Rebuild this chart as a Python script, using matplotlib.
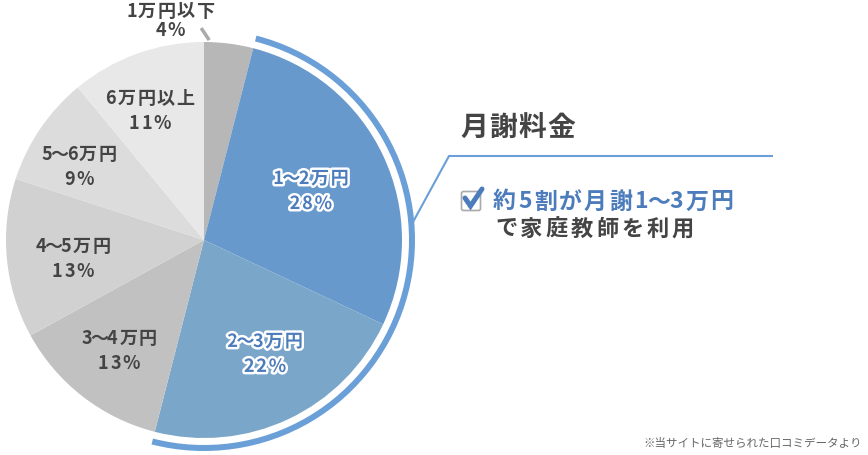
import numpy as np
import matplotlib
matplotlib.use('Agg')
import matplotlib.pyplot as plt
from matplotlib.patches import Wedge, FancyBboxPatch
import matplotlib.patheffects as pe

plt.rcParams['font.family'] = ['Noto Sans CJK JP', 'DejaVu Sans']

# data
labels = ['1万円以下', '1〜2万円', '2〜3万円', '3〜4万円', '4〜5万円', '5〜6万円', '6万円以上']
shares = [4, 28, 22, 13, 13, 9, 11]
colors = ['#b7b7b7', '#6899cc', '#7aa6c9', '#c1c1c1', '#d1d1d1', '#dcdcdc', '#e8e8e8']
highlight = [1, 2]  # slices under the blue arc

title = '月謝料金'
point_line1 = '約5割が月謝1〜3万円'
point_line2 = 'で家庭教師を利用'
note = '※当サイトに寄せられた口コミデータより'

W, H = 868, 456
def py(y):
    return H - y

fig = plt.figure(figsize=(W / 100, H / 100), dpi=100)
ax = fig.add_axes([0, 0, 1, 1])

cx, cy, R = 204, py(241), 198
wedges, _ = ax.pie(shares, colors=colors, startangle=90, counterclock=False,
                   radius=R, center=(cx, cy), wedgeprops=dict(linewidth=0))
ax.set_xlim(0, W)
ax.set_ylim(0, H)
ax.set_aspect('equal')
ax.axis('off')

# blue arc around highlighted slices
t1 = min(wedges[i].theta1 for i in highlight)
t2 = max(wedges[i].theta2 for i in highlight)
ax.add_patch(Wedge((cx, cy), 211, t1, t2, width=6, color='#6a9fd8', lw=0))

renderer = fig.canvas.get_renderer()

def spaced_text(x, y, s, gap, ha='left', tilde_gap=None, **kw):
    # place characters one by one to get letter spacing
    items = [ax.text(0, y, ch, ha='left', va='center', **kw) for ch in s]
    widths = [t.get_window_extent(renderer).width for t in items]
    gaps = []
    for a, b in zip(s[:-1], s[1:]):
        if tilde_gap is not None and '〜' in (a, b):
            gaps.append(tilde_gap)
        else:
            gaps.append(gap)
    total = sum(widths) + sum(gaps)
    if ha == 'center':
        x -= total / 2
    for t, w, g in zip(items, widths, gaps + [0]):
        t.set_x(x)
        x += w + g

dark = '#444444'
blue_txt = '#4c7cbc'
frac = [None, 0.594, 0.653, 0.70, 0.668, 0.734, 0.711]
nudge = [0, -0.6, 3.0, 0.0, 2.4, 3.6, 2.8]
lab_kw = dict(fontsize=13, fontweight='bold')
for i, w in enumerate(wedges):
    if i == 0:
        # outside label with leader
        a = np.deg2rad(w.theta2 - 1.5)
        x0, y0 = cx + R * np.cos(a), cy + R * np.sin(a)
        ax.plot([x0, x0 - 8], [y0 + 2, y0 + 14], color='#aaaaaa', lw=2.5,
                solid_capstyle='butt')
        spaced_text(170, py(11), labels[i], 1.2, ha='center', color=dark, **lab_kw)
        spaced_text(170, py(30), f'{shares[i]}%', 1.5, ha='center', color=dark,
                    **lab_kw)
        continue
    mid = np.deg2rad((w.theta1 + w.theta2) / 2 + nudge[i])
    tx = cx + frac[i] * R * np.cos(mid)
    ty = cy + frac[i] * R * np.sin(mid)
    if i in highlight:
        kw = dict(color=blue_txt,
                  path_effects=[pe.withStroke(linewidth=3.5, foreground='white')])
    else:
        kw = dict(color=dark)
    spaced_text(tx, ty + 12.5, labels[i], 1.6, ha='center', tilde_gap=-1.5,
                **lab_kw, **kw)
    spaced_text(tx, ty - 12.5, f'{shares[i]}%', 1.8, ha='center', **lab_kw, **kw)

# right panel
spaced_text(460, py(128), title, 1.5, fontsize=20, fontweight='bold', color=dark)
ax.plot([413, 449, 772], [py(223), py(157), py(157)], color='#6a9fd8', lw=1.5)

ax.add_patch(FancyBboxPatch((461.5, py(211.5)), 19, 19,
                            boxstyle='round,pad=0,rounding_size=2',
                            fc='white', ec='#aaaaaa', lw=1.2))
ax.plot([465, 470.5, 482], [py(199), py(207), py(190)], color='#4c7cbc', lw=3.6,
        solid_capstyle='round', solid_joinstyle='miter')

spaced_text(493, py(202), point_line1, 2.2, fontsize=16.5, fontweight='bold',
            color=blue_txt, tilde_gap=-0.5)
spaced_text(495, py(229), point_line2, 3.0, fontsize=16, fontweight='bold',
            color=dark)

ax.text(862, py(444), note, ha='right', va='center', fontsize=8.3,
        color='#666666')

fig.savefig('out.png', dpi=100)
